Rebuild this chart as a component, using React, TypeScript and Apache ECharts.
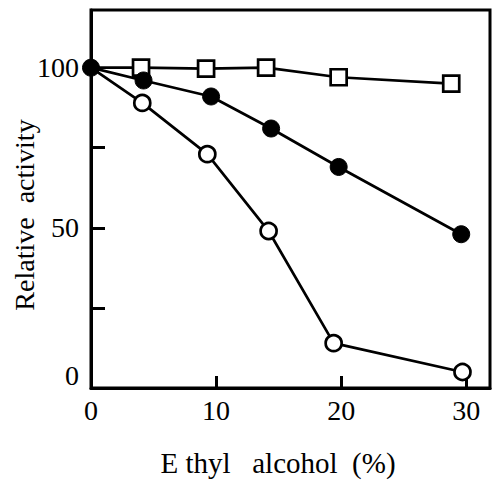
import React, { useEffect, useRef } from "react";
import * as echarts from "echarts";

const squareX = [0, 4, 9.2, 14, 19.8, 28.8];
const squareY = [100, 100, 99.7, 100, 97, 95];
const filledX = [0, 4.2, 9.6, 14.4, 19.8, 29.6];
const filledY = [100, 96, 91, 81, 69, 48];
const openX = [0, 4.1, 9.3, 14.2, 19.4, 29.7];
const openY = [100, 89, 73, 49, 14, 5];
const xTickValues = [10, 20, 30];
const xLabelValues = [0, 10, 20, 30];
const yTickValues = [25, 50, 75];
const yLabelValues = [0, 50, 100];

const FONT = "Liberation Serif";

function pairs(xs: number[], ys: number[], hideFirst = false) {
  return xs.map((x, i) =>
    hideFirst && i === 0 ? { value: [x, ys[i]], symbol: "none" } : [x, ys[i]]
  );
}

export default function App() {
  const ref = useRef<HTMLDivElement>(null);
  useEffect(() => {
    const chart = echarts.init(ref.current!, null, { renderer: "svg" });
    const lineStyle = { color: "#000", width: 2.7 };
    chart.setOption({
      animation: false,
      backgroundColor: "#fff",
      grid: {
        left: 91,
        right: 4,
        top: 10,
        bottom: 95,
        show: true,
        borderColor: "#000",
        borderWidth: 3,
      },
      xAxis: {
        type: "value",
        min: 0,
        max: 31.9,
        interval: 10,
        splitLine: { show: false },
        axisLine: { show: true, lineStyle: { color: "#000", width: 3 } },
        axisTick: {
          show: true,
          inside: true,
          length: 12,
          lineStyle: { color: "#000", width: 3 },
          customValues: xTickValues,
        },
        axisLabel: {
          customValues: xLabelValues,
          color: "#000",
          fontFamily: FONT,
          fontSize: 28,
          margin: 8,
        },
      },
      yAxis: {
        type: "value",
        min: 0,
        max: 118,
        interval: 25,
        splitLine: { show: false },
        axisLine: { show: true, lineStyle: { color: "#000", width: 3 } },
        axisTick: {
          show: true,
          inside: true,
          length: 14,
          lineStyle: { color: "#000", width: 3 },
          customValues: yTickValues,
        },
        axisLabel: {
          customValues: yLabelValues,
          color: "#000",
          fontFamily: FONT,
          fontSize: 28,
          margin: 12,
          formatter: (v: number) => (v === 0 ? "{z|0}" : String(v)),
          rich: {
            z: {
              fontFamily: FONT,
              fontSize: 28,
              color: "#000",
              padding: [0, 0, 26, 0],
            },
          },
        },
      },
      graphic: [
        {
          type: "text",
          x: 24,
          y: 215,
          rotation: Math.PI / 2,
          style: {
            text: "Relative  activity",
            fontFamily: FONT,
            fontSize: 28,
            fill: "#000",
            align: "center",
            verticalAlign: "middle",
          },
        },
        {
          type: "text",
          x: 278,
          y: 463,
          style: {
            text: "E thyl   alcohol  (%)",
            fontFamily: FONT,
            fontSize: 29,
            fill: "#000",
            align: "center",
            verticalAlign: "middle",
          },
        },
      ],
      series: [
        {
          type: "line",
          data: pairs(squareX, squareY, true),
          symbol: "rect",
          symbolSize: 16,
          lineStyle,
          itemStyle: { color: "#fff", borderColor: "#000", borderWidth: 2.7 },
          z: 2,
        },
        {
          type: "line",
          data: pairs(openX, openY, true),
          symbol: "circle",
          symbolSize: 16,
          lineStyle,
          itemStyle: { color: "#fff", borderColor: "#000", borderWidth: 2.7 },
          z: 3,
        },
        {
          type: "line",
          data: pairs(filledX, filledY),
          symbol: "circle",
          symbolSize: 17,
          lineStyle,
          itemStyle: { color: "#000", borderColor: "#000", borderWidth: 1 },
          z: 4,
        },
      ],
    });
    return () => chart.dispose();
  }, []);
  return (
    <div
      ref={ref}
      style={{ position: "fixed", left: 0, top: 0, width: 494, height: 483 }}
    />
  );
}
